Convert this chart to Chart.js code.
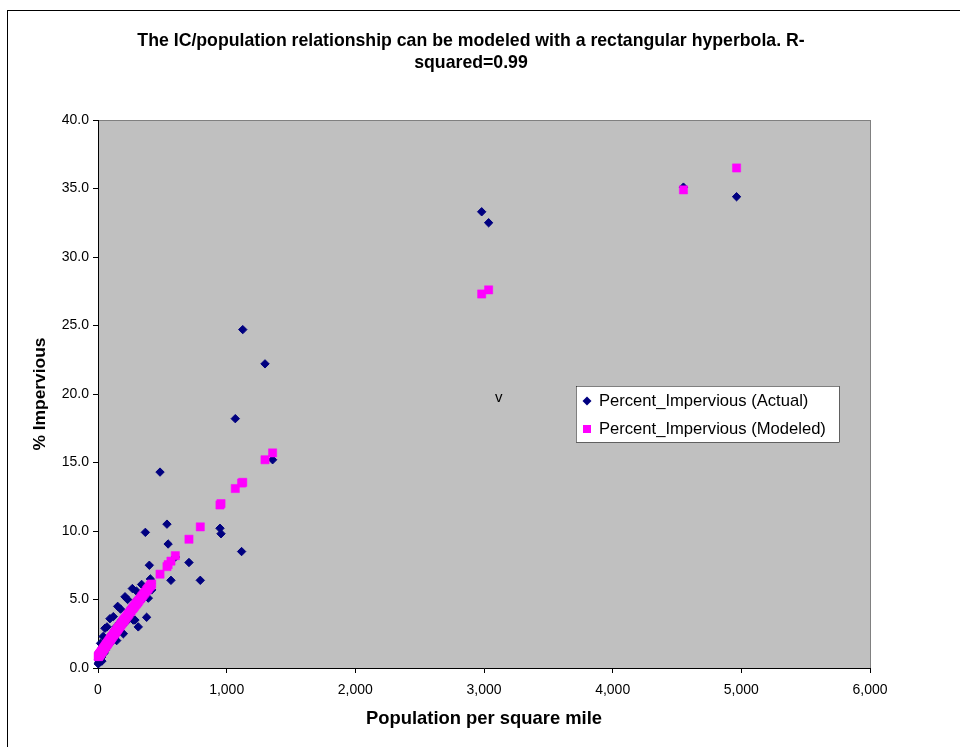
<!DOCTYPE html>
<html>
<head>
<meta charset="utf-8">
<title>IC / population</title>
<script src="https://cdn.jsdelivr.net/npm/chart.js@4.4.0/dist/chart.umd.min.js"></script>
<style>
  html, body { margin: 0; padding: 0; background: #fff; }
  #wrap { width: 960px; height: 747px; }
</style>
</head>
<body>
<div id="wrap"><canvas id="icChart" width="960" height="747"></canvas></div>
<script>
// population per square mile, one entry per county
const population = [
  2, 4, 6, 8, 10, 12, 14, 16, 18, 20,
  22, 25, 28, 30, 33, 36, 40, 42, 45, 48,
  50, 54, 57, 60, 64, 68, 70, 72, 76, 80,
  84, 88, 93, 96, 100, 104, 108, 112, 119, 122,
  126, 130, 135, 140, 145, 150, 153, 158, 163, 168,
  175, 178, 185, 190, 197, 200, 205, 210, 215, 222,
  230, 235, 242, 250, 258, 267, 274, 280, 287, 295,
  300, 306, 313, 320, 330, 339, 345, 352, 360, 368,
  378, 385, 391, 399, 407, 412, 417,
  482, 536, 545, 567, 601, 707, 795, 948, 956, 1067,
  1116, 1125, 1298, 1357, 2982, 3036, 4550, 4963
];

// measured % impervious
const actualPct = [
  0.3, 0.6, 0.4, 0.9, 0.5, 1.2, 0.7, 1.0, 0.6, 1.8,
  0.9, 1.3, 0.8, 0.5, 1.5, 1.0, 2.3, 1.2, 1.6, 1.1,
  1.4, 2.9, 1.3, 1.8, 1.5, 2.1, 3.0, 1.6, 2.0, 1.7,
  2.2, 1.9, 3.6, 2.0, 2.4, 1.9, 2.3, 2.1, 3.75, 2.6,
  2.2, 2.8, 2.4, 3.0, 2.0, 2.6, 4.5, 3.0, 2.8, 3.3,
  4.3, 3.0, 3.5, 3.1, 2.5, 3.6, 3.3, 5.2, 3.7, 3.4,
  5.0, 3.8, 4.2, 3.9, 4.4, 5.8, 3.5, 4.6, 3.5, 4.9,
  5.6, 4.6, 3.0, 5.1, 4.9, 6.1, 5.4, 5.1, 5.6, 9.9,
  3.7, 5.9, 5.1, 7.5, 6.5, 6.2, 5.7,
  14.3, 10.5, 9.05, 6.4, 8.1, 7.7, 6.4, 10.2, 9.8, 18.2,
  8.5, 24.7, 22.2, 15.2, 33.3, 32.5, 35.1, 34.4
];

// % impervious from the hyperbola fit
const modeledPct = [
  0.83, 0.85, 0.88, 0.91, 0.94, 0.97, 0.99, 1.02, 1.05, 1.07,
  1.10, 1.14, 1.18, 1.21, 1.25, 1.29, 1.35, 1.38, 1.41, 1.45,
  1.48, 1.54, 1.58, 1.62, 1.67, 1.72, 1.75, 1.78, 1.83, 1.89,
  1.94, 2.00, 2.06, 2.10, 2.15, 2.20, 2.26, 2.31, 2.40, 2.44,
  2.50, 2.55, 2.61, 2.68, 2.74, 2.81, 2.85, 2.91, 2.98, 3.04,
  3.13, 3.17, 3.26, 3.33, 3.42, 3.45, 3.52, 3.58, 3.65, 3.74,
  3.84, 3.90, 3.99, 4.09, 4.19, 4.31, 4.39, 4.47, 4.55, 4.65,
  4.71, 4.79, 4.87, 4.96, 5.08, 5.19, 5.26, 5.35, 5.45, 5.54,
  5.67, 5.75, 5.82, 5.92, 6.01, 6.07, 6.13,
  6.85, 7.4, 7.55, 7.8, 8.2, 9.4, 10.3, 11.9, 12.0, 13.1,
  13.5, 13.55, 15.2, 15.7, 27.3, 27.6, 34.9, 36.5
];

const seriesNames = ['Percent_Impervious (Actual)', 'Percent_Impervious (Modeled)'];
const seriesColors = ['#000080', '#ff00ff'];
const titleLines = ['The IC/population relationship can be modeled with a rectangular hyperbola. R-', 'squared=0.99'];
const strayMark = { pop: 3115, pct: 19.7, text: 'v' };

const FONT = "'Liberation Sans', Arial, sans-serif";

function toPoints(ys) {
  return population.map((x, i) => ({ x: x, y: ys[i] }));
}

// grey plot area, outer frame, and the boxed legend
const framePlugin = {
  id: 'framePlugin',
  beforeDraw(chart) {
    const { ctx, chartArea: a } = chart;
    ctx.save();
    ctx.fillStyle = '#fff';
    ctx.fillRect(0, 0, chart.width, chart.height);
    ctx.strokeStyle = '#000';
    ctx.lineWidth = 1;
    ctx.strokeRect(7.5, 10.5, chart.width + 20, chart.height + 20);
    ctx.fillStyle = '#c0c0c0';
    ctx.fillRect(a.left, a.top, a.right - a.left, a.bottom - a.top);
    ctx.strokeStyle = '#808080';
    ctx.strokeRect(a.left + 0.5, a.top + 0.5, a.right - a.left, a.bottom - a.top);
    ctx.restore();
  },
  afterDraw(chart) {
    const { ctx, scales } = chart;
    ctx.save();
    // stray label on the plot
    ctx.font = '15px ' + FONT;
    ctx.fillStyle = '#000';
    ctx.textAlign = 'center';
    ctx.textBaseline = 'middle';
    ctx.fillText(strayMark.text, scales.x.getPixelForValue(strayMark.pop), scales.y.getPixelForValue(strayMark.pct));

    // legend box
    const bx = 576, by = 386, bw = 263, bh = 56;
    ctx.fillStyle = '#fff';
    ctx.fillRect(bx, by, bw, bh);
    ctx.strokeStyle = '#000';
    ctx.strokeRect(bx + 0.5, by + 0.5, bw, bh);

    const rowY = [by + 15, by + 43];
    const mx = bx + 11;
    // diamond
    ctx.fillStyle = seriesColors[0];
    ctx.beginPath();
    ctx.moveTo(mx - 4.5, rowY[0]);
    ctx.lineTo(mx, rowY[0] - 4.5);
    ctx.lineTo(mx + 4.5, rowY[0]);
    ctx.lineTo(mx, rowY[0] + 4.5);
    ctx.closePath();
    ctx.fill();
    // square
    ctx.fillStyle = seriesColors[1];
    ctx.fillRect(mx - 4, rowY[1] - 4, 8, 8);

    ctx.fillStyle = '#000';
    ctx.textAlign = 'left';
    ctx.font = '16.6px ' + FONT;
    ctx.fillText(seriesNames[0], bx + 23, rowY[0]);
    ctx.fillText(seriesNames[1], bx + 23, rowY[1]);
    ctx.restore();
  }
};

new Chart(document.getElementById('icChart'), {
  type: 'scatter',
  data: {
    datasets: [{
      label: seriesNames[0],
      data: toPoints(actualPct),
      pointStyle: 'rectRot',
      pointRadius: 4.2,
      backgroundColor: seriesColors[0],
      borderColor: seriesColors[0],
      borderWidth: 1,
      clip: false,
      order: 2
    }, {
      label: seriesNames[1],
      data: toPoints(modeledPct),
      pointStyle: 'rect',
      pointRadius: 5.8,
      backgroundColor: seriesColors[1],
      borderColor: seriesColors[1],
      borderWidth: 0.5,
      clip: false,
      order: 1
    }]
  },
  options: {
    responsive: false,
    animation: false,
    events: [],
    layout: { padding: { left: 0, right: 18, top: 10, bottom: 0 } },
    plugins: {
      legend: { display: false },
      tooltip: { enabled: false },
      title: {
        display: true,
        text: titleLines,
        color: '#000',
        font: { family: FONT, size: 17.7, weight: 'bold', lineHeight: 22 / 17.7 },
        padding: { top: 20, bottom: 46 }
      }
    },
    scales: {
      x: {
        type: 'linear',
        min: 0,
        max: 6000,
        border: { color: '#000', width: 1 },
        grid: { drawOnChartArea: false, drawTicks: true, tickLength: 5, color: '#000' },
        ticks: {
          stepSize: 1000,
          padding: 9,
          color: '#000',
          font: { family: FONT, size: 14 },
          callback: v => v.toLocaleString('en-US')
        },
        title: {
          display: true,
          text: 'Population per square mile',
          color: '#000',
          font: { family: FONT, size: 18.4, weight: 'bold' },
          padding: { top: 0, bottom: 17 }
        },
        afterFit(s) { s.height = 79; }
      },
      y: {
        type: 'linear',
        min: 0,
        max: 40,
        border: { color: '#000', width: 1 },
        grid: { drawOnChartArea: false, drawTicks: true, tickLength: 5, color: '#000' },
        ticks: {
          stepSize: 5,
          padding: 4,
          color: '#000',
          font: { family: FONT, size: 14 },
          callback: v => v.toFixed(1)
        },
        title: {
          display: true,
          text: '% Impervious',
          color: '#000',
          font: { family: FONT, size: 17.4, weight: 'bold' },
          padding: { top: 30, bottom: 0 }
        },
        afterFit(s) { s.width = 98; }
      },
      // empty right-hand strip so the plot ends short of the title's centre line
      rightGap: {
        type: 'linear',
        position: 'right',
        display: true,
        border: { display: false },
        grid: { display: false },
        ticks: { display: false },
        afterFit(s) { s.width = 72; }
      }
    }
  },
  plugins: [framePlugin]
});
</script>
</body>
</html>
